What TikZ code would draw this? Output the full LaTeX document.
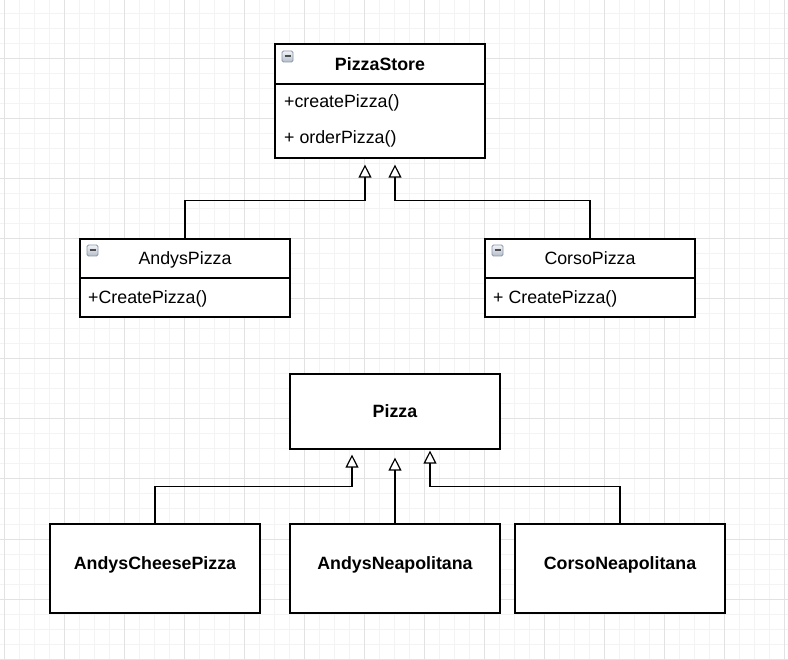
\documentclass[tikz,border=0pt]{standalone}
\usepackage{fontspec}
\setmainfont{Liberation Sans}
\usetikzlibrary{arrows.meta,calc}
\definecolor{minorgrid}{HTML}{F3F3F3}
\definecolor{majorgrid}{HTML}{E2E2E2}
\definecolor{icontop}{HTML}{F2F4F8}
\definecolor{iconbot}{HTML}{B4BDCB}
\definecolor{iconedge}{HTML}{8A96A8}
\begin{document}
\begin{tikzpicture}[x=1pt,y=-1pt,
  every node/.style={font=\fontsize{17.8}{21}\selectfont, text=black, inner sep=0pt},
  box/.style={draw=black, line width=1.2pt, fill=white, minimum width=210pt},
  divider/.style={draw=black, line width=1.2pt},
  inh/.style={draw=black, line width=1.2pt, -{Triangle[open,length=13pt,width=13pt,fill=white]}},
  meth/.style={anchor=base west},
  lbl/.style={anchor=base},
  title/.style={anchor=base, font=\fontsize{17.8}{21}\selectfont\bfseries}
]
\useasboundingbox[fill=white] (0,0) rectangle (788,660);
% grid
\foreach \x in {4,19,...,788} \draw[minorgrid, line width=1pt] (\x,0) -- (\x,660);
\foreach \y in {14,29,...,660} \draw[minorgrid, line width=1pt] (0,\y) -- (788,\y);
\foreach \x in {4,64,...,788} \draw[majorgrid, line width=1pt] (\x,0) -- (\x,660);
\foreach \y in {59,119,...,660} \draw[majorgrid, line width=1pt] (0,\y) -- (788,\y);

% icon macro
\newcommand{\mycollapse}[2]{%
  \shade[top color=icontop, bottom color=iconbot, draw=iconedge, line width=0.8pt, rounded corners=1.5pt]
    (#1,#2) rectangle ++(11,11);
  \draw[black!70, line width=2pt] ($(#1,#2)+(2.5,5.5)$) -- ++(6,0);}

% PizzaStore
\node[box, minimum height=114pt] (store) at (380,101) {};
\draw[divider] (275,84) -- (485,84);
\mycollapse{282}{51}
\node[title] (storet) at (380,71) {PizzaStore};
\node[meth] (m1) at (284,108) {+createPizza()};
\node[meth] (m2) at (284,144) {+ orderPizza()};

% AndysPizza
\node[box, minimum height=78pt] (andys) at (185,278) {};
\draw[divider] (80,278) -- (290,278);
\mycollapse{87}{245}
\node[lbl] (andyst) at (185,265) {AndysPizza};
\node[meth] (m3) at (88,304) {+CreatePizza()};

% CorsoPizza
\node[box, minimum height=78pt] (corso) at (590,278) {};
\draw[divider] (485,278) -- (695,278);
\mycollapse{492}{245}
\node[lbl] (corsot) at (590,265) {CorsoPizza};
\node[meth] (m4) at (493,304) {+ CreatePizza()};

% Pizza
\node[box, minimum height=75pt] (pizza) at (395,411.5) {};
\node[title] (pizzat) at (395,418) {Pizza};

% concrete pizzas
\node[box, minimum height=89pt] (acp) at (155,568.5) {};
\node[box, minimum height=89pt] (an) at (395,568.5) {};
\node[box, minimum height=89pt] (cn) at (620,568.5) {};
\node[title] (acpt) at (155,569) {AndysCheesePizza};
\node[title] (ant) at (395,569) {AndysNeapolitana};
\node[title] (cnt) at (620,569) {CorsoNeapolitana};

% inheritance connectors
\draw[inh, shorten >=6pt] (andys.north) -- ++(0,-37.5) -| ([xshift=-15pt]store.south);
\draw[inh, shorten >=6pt] (corso.north) -- ++(0,-37.5) -| ([xshift=15pt]store.south);
\draw[inh, shorten >=5pt] (acp.north) -- ++(0,-37) -| ([xshift=-43pt]pizza.south);
\draw[inh, shorten >=8pt] (an.north) -- (pizza.south);
\draw[inh, shorten >=1pt] (cn.north) -- ++(0,-37) -| ([xshift=35pt]pizza.south);
\end{tikzpicture}
\end{document}
